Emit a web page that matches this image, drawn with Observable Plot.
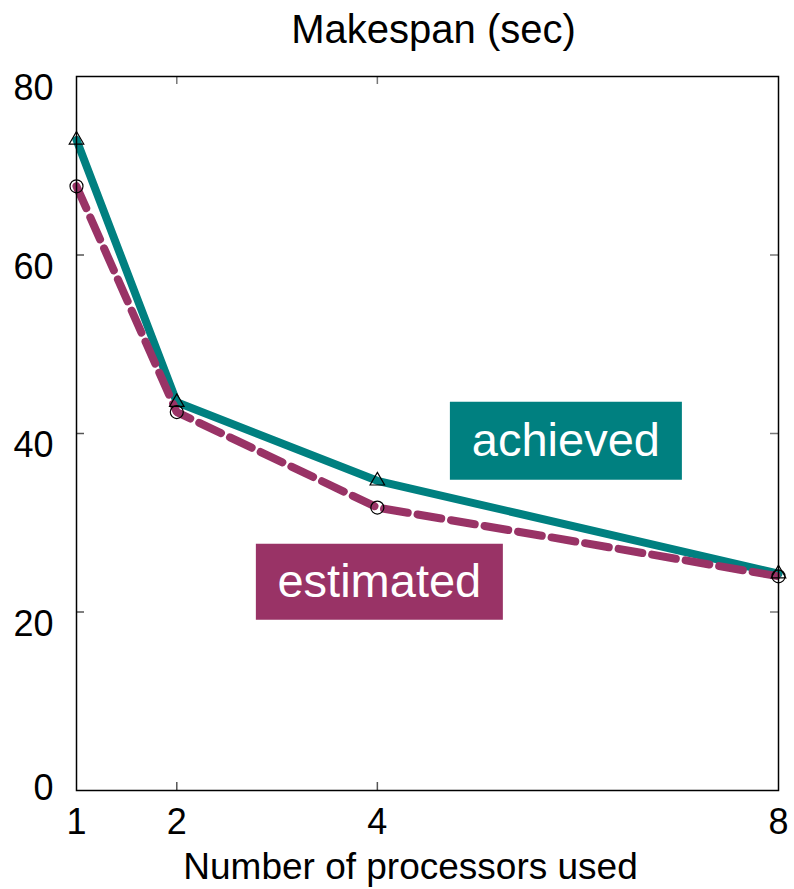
<!DOCTYPE html>
<html>
<head>
<meta charset="utf-8">
<script src="https://cdn.jsdelivr.net/npm/d3@7"></script>
<script src="https://cdn.jsdelivr.net/npm/@observablehq/plot@0.6"></script>
<style>
  html, body { margin: 0; padding: 0; background: #fff; }
  #chart svg { display: block; font-family: "Liberation Sans", Arial, Helvetica, sans-serif; }
</style>
</head>
<body>
<div id="chart"></div>
<script>
// Data
const processors = [1, 2, 4, 8];
const achieved = [72.9, 43.5, 34.7, 24.3];
const estimated = [67.7, 42.4, 31.7, 24.0];
const xTicks = [1, 2, 4, 8];
const yTicks = [0, 20, 40, 60, 80];
const title = "Makespan (sec)";
const xLabel = "Number of processors used";
const seriesNames = ["achieved", "estimated"];
const seriesColors = ["#008080", "#993366"];
// annotation anchor positions (data units)
const labelX = [5.88, 4.02];
const labelY = [39.2, 23.4];

const achievedData = processors.map((p, i) => ({p, v: achieved[i]}));
const estimatedData = processors.map((p, i) => ({p, v: estimated[i]}));
const labels = seriesNames.map((name, i) => ({name, x: labelX[i], y: labelY[i], color: seriesColors[i]}));

const boxSymbol = (w, h) => ({ draw(ctx) { ctx.rect(-w / 2, -h / 2, w, h); } });

const W = 794, H = 889;
const mL = 76, mR = 16, mT = 76, mB = 99;
const plotW = W - mL - mR, plotH = H - mT - mB;
const tickLen = 8;

const chart = Plot.plot({
  width: W, height: H,
  marginLeft: mL, marginRight: mR, marginTop: mT, marginBottom: mB,
  x: {type: "linear", domain: [1, 8], axis: null},
  y: {domain: [0, 80], axis: null},
  style: {fontFamily: "Liberation Sans, Arial, Helvetica, sans-serif", background: "white"},
  marks: [
    // inward ticks
    Plot.tickX(xTicks.slice(1, -1), {x: d => d, insetTop: plotH - tickLen, stroke: "#555", strokeWidth: 1.5}),
    Plot.tickX(xTicks.slice(1, -1), {x: d => d, insetBottom: plotH - tickLen, stroke: "#777", strokeWidth: 1.5}),
    Plot.tickY(yTicks.slice(1, -1), {y: d => d, insetRight: plotW - tickLen, stroke: "#555", strokeWidth: 1.5}),
    Plot.tickY(yTicks.slice(1, -1), {y: d => d, insetLeft: plotW - tickLen, stroke: "#777", strokeWidth: 1.5}),
    // tick labels
    Plot.text(yTicks.filter(d => d !== 0), {y: d => d, text: d => String(d), frameAnchor: "left", textAnchor: "end", dx: -23, dy: 12, fontSize: 36, fill: "black"}),
    Plot.text(yTicks.filter(d => d === 0), {y: d => d, text: d => String(d), frameAnchor: "left", textAnchor: "end", dx: -23, dy: -2, fontSize: 36, fill: "black"}),
    Plot.text(xTicks, {x: d => d, text: d => String(d), frameAnchor: "bottom", dy: 43, fontSize: 36, fill: "black"}),
    // titles
    Plot.text([xLabel], {frameAnchor: "bottom", dx: -17, dy: 88, fontSize: 37, fill: "black"}),
    Plot.text([title], {frameAnchor: "top", dx: 6, dy: -62, fontSize: 40, fill: "black"}),
    // lines
    Plot.line(achievedData, {x: "p", y: "v", stroke: seriesColors[0], strokeWidth: 8, strokeLinejoin: "miter"}),
    Plot.line(estimatedData, {x: "p", y: "v", stroke: seriesColors[1], strokeWidth: 8, strokeDasharray: "24,10", strokeLinejoin: "miter"}),
    // markers
    Plot.dot(achievedData, {x: "p", y: "v", symbol: "triangle", r: 5.4, stroke: "black", fill: "none", strokeWidth: 1.2}),
    Plot.dot(estimatedData, {x: "p", y: "v", symbol: "circle", r: 6.5, stroke: "black", fill: "none", strokeWidth: 1.2}),
    // frame
    Plot.frame({stroke: "black", strokeWidth: 1.5}),
    // annotation boxes
    Plot.dot(labels.slice(0, 1), {x: "x", y: "y", symbol: boxSymbol(232, 78), fill: "color", stroke: "none"}),
    Plot.dot(labels.slice(1, 2), {x: "x", y: "y", symbol: boxSymbol(247, 76), fill: "color", stroke: "none"}),
    Plot.text(labels, {x: "x", y: "y", text: "name", fill: "white", fontSize: 47})
  ]
});
document.getElementById("chart").appendChild(chart);
</script>
</body>
</html>
